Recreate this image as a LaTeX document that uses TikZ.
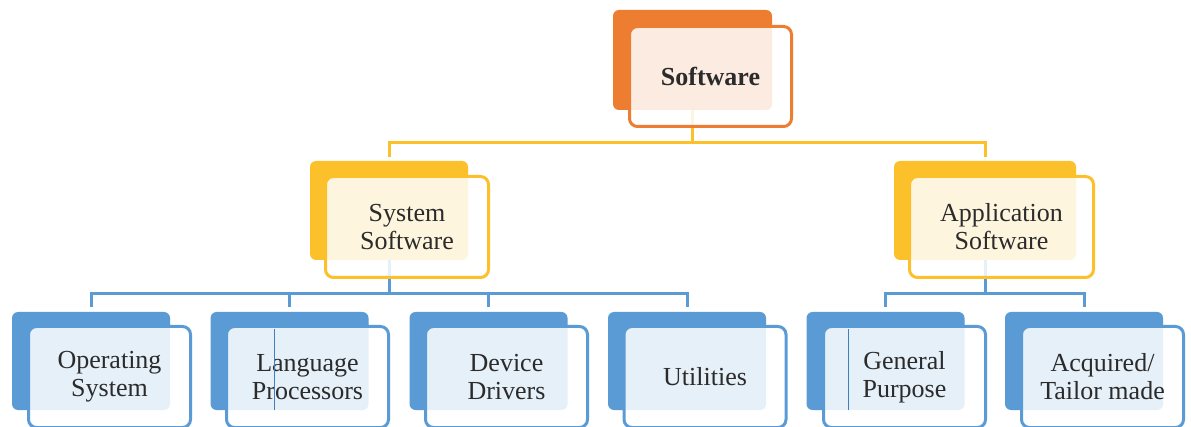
\documentclass[tikz,border=0pt]{standalone}
\usepackage{fontspec}
\setmainfont{Liberation Serif}
\definecolor{orng}{HTML}{ED7D31}
\definecolor{gold}{HTML}{FCC12A}
\definecolor{blu}{HTML}{5B9BD5}
\definecolor{bludark}{HTML}{3F7FC0}
\definecolor{txt}{HTML}{2B2B2B}
\tikzset{
  backbox/.style={rounded corners=6pt, fill=#1, draw=none, inner sep=0pt, outer sep=0pt},
  frontbox/.style={rounded corners=8pt, draw=#1, line width=3pt, fill=white, fill opacity=0.85,
     text opacity=1, text=txt, align=center, inner sep=0pt, outer sep=0pt,
     font=\fontsize{26}{28}\selectfont},
  conn/.style={draw=#1, line width=3pt}
}
\begin{document}
\begin{tikzpicture}[x=1pt,y=-1pt]
\useasboundingbox (0,0) rectangle (1191,427);
\clip (0,0) rectangle (1191,427);
\fill[white] (0,0) rectangle (1191,427);

% back boxes
\node[backbox=orng, minimum width=159pt, minimum height=100pt] (swb) at (692.5,60) {};
\node[backbox=gold, minimum width=158pt, minimum height=99pt] (ssb) at (389,210.5) {};
\node[backbox=gold, minimum width=182pt, minimum height=99pt] (asb) at (985,210.5) {};
\node[backbox=blu, minimum width=158pt, minimum height=98pt] (osb) at (91,361) {};
\node[backbox=blu, minimum width=158pt, minimum height=98pt] (lpb) at (289.5,361) {};
\node[backbox=blu, minimum width=158pt, minimum height=98pt] (ddb) at (488.5,361) {};
\node[backbox=blu, minimum width=158pt, minimum height=98pt] (utb) at (687,361) {};
\node[backbox=blu, minimum width=158pt, minimum height=98pt] (gpb) at (885.5,361) {};
\node[backbox=blu, minimum width=158pt, minimum height=98pt] (atb) at (1084,361) {};

% junction levels
\coordinate (ytop) at (0,143);
\coordinate (ybot) at (0,294);
\coordinate (jsw) at (swb.south |- ytop);
\coordinate (jss) at (ssb.south |- ybot);
\coordinate (jas) at (asb.south |- ybot);

% connectors
\draw[conn=gold] (swb.south) -- (jsw);
\draw[conn=gold, shorten <=4pt] (ssb.north) |- (jsw);
\draw[conn=gold, shorten <=4pt] (asb.north) |- (jsw);
\draw[conn=blu] (ssb.south) -- (jss);
\draw[conn=blu] (asb.south) -- (jas);
\foreach \c in {osb,lpb,ddb,utb} {\draw[conn=blu, shorten <=5pt] (\c.north) |- (jss);}
\foreach \c in {gpb,atb} {\draw[conn=blu, shorten <=5pt] (\c.north) |- (jas);}

% front boxes
\node[frontbox=orng, minimum width=162pt, minimum height=100pt] (swf) at (710.5,76.5) {\textbf{Software}};
\node[frontbox=gold, minimum width=163pt, minimum height=101pt] (ssf) at (407,227) {System\\Software};
\node[frontbox=gold, minimum width=184pt, minimum height=101pt] (asf) at (1001.5,227) {Application\\Software};
\node[frontbox=blu, minimum width=162pt, minimum height=101pt] (osf) at (109.5,377) {Operating\\System};
\node[frontbox=blu, minimum width=162pt, minimum height=101pt] (lpf) at (307.5,377) {Language\\Processors};
\node[frontbox=blu, minimum width=162pt, minimum height=101pt] (ddf) at (506.5,377) {Device\\Drivers};
\node[frontbox=blu, minimum width=162pt, minimum height=101pt] (utf) at (705,377) {Utilities};
\node[frontbox=blu, minimum width=162pt, minimum height=101pt] (gpf) at (904.5,377) {General\\Purpose};
\node[frontbox=blu, minimum width=162pt, minimum height=101pt] (atf) at (1102.5,377) {Acquired/\\Tailor made};

% thin artefact lines
\draw[bludark, line width=0.8pt] (274.5,329) -- (274.5,410);
\draw[bludark, line width=0.8pt] (848.5,329) -- (848.5,410);
\end{tikzpicture}
\end{document}
